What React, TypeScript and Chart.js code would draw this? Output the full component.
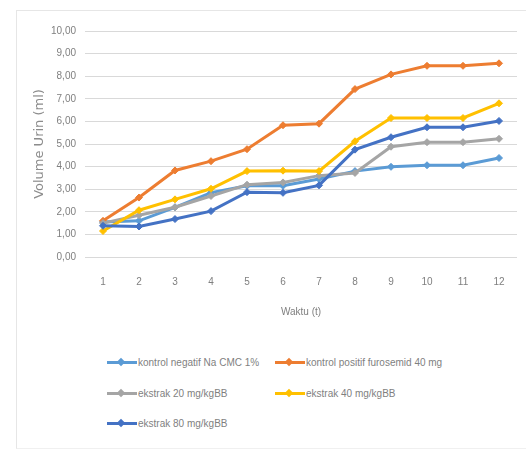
import React, { useEffect, useRef } from "react";
import { Chart, registerables } from "chart.js";

Chart.register(...registerables);

const categories = ["1", "2", "3", "4", "5", "6", "7", "8", "9", "10", "11", "12"];
const seriesNames = [
  "kontrol negatif Na CMC 1%",
  "kontrol positif furosemid 40 mg",
  "ekstrak 20 mg/kgBB",
  "ekstrak 40 mg/kgBB",
  "ekstrak 80 mg/kgBB",
];
const kontrolNegatif = [1.55, 1.6, 2.2, 2.85, 3.15, 3.15, 3.45, 3.8, 3.99, 4.06, 4.06, 4.38];
const kontrolPositif = [1.6, 2.63, 3.83, 4.24, 4.77, 5.83, 5.9, 7.43, 8.08, 8.46, 8.46, 8.57];
const ekstrak20 = [1.5, 1.85, 2.2, 2.7, 3.2, 3.3, 3.6, 3.72, 4.88, 5.08, 5.08, 5.23];
const ekstrak40 = [1.15, 2.07, 2.55, 3.02, 3.8, 3.82, 3.8, 5.12, 6.15, 6.15, 6.15, 6.8];
const ekstrak80 = [1.38, 1.35, 1.68, 2.03, 2.87, 2.84, 3.17, 4.75, 5.3, 5.74, 5.74, 6.02];
const seriesValues = [kontrolNegatif, kontrolPositif, ekstrak20, ekstrak40, ekstrak80];
const seriesColors = ["#5B9BD5", "#ED7D31", "#A5A5A5", "#FFC000", "#4472C4"];
const yTitle = "Volume Urin (ml)";
const xTitle = "Waktu (t)";

const FONT = "'Liberation Sans', Arial, sans-serif";
const TEXT = "#7f7f7f";

function LegendItem({ name, color, left, top }: { name: string; color: string; left: number; top: number }) {
  return (
    <div style={{ position: "absolute", left, top: top - 7, height: 14, display: "flex", alignItems: "center" }}>
      <div style={{ position: "relative", width: 30, height: 14 }}>
        <div style={{ position: "absolute", left: 0, top: 6, width: 30, height: 3, background: color }} />
        <div
          style={{
            position: "absolute",
            left: 11,
            top: 3.5,
            width: 6,
            height: 6,
            background: color,
            transform: "rotate(45deg)",
          }}
        />
      </div>
      <span style={{ fontFamily: FONT, fontSize: 10, color: TEXT, marginLeft: 1, whiteSpace: "nowrap" }}>{name}</span>
    </div>
  );
}

export default function App() {
  const ref = useRef<HTMLCanvasElement | null>(null);
  useEffect(() => {
    if (!ref.current) return;
    const chart = new Chart(ref.current, {
      type: "line",
      data: {
        labels: categories,
        datasets: seriesNames.map((name, i) => ({
          label: name,
          data: seriesValues[i],
          borderColor: seriesColors[i],
          backgroundColor: seriesColors[i],
          borderWidth: 3,
          pointStyle: "rectRot",
          pointRadius: 3.5,
          pointBorderWidth: 1,
          tension: 0,
          order: seriesNames.length - i,
        })),
      },
      options: {
        animation: false,
        responsive: false,
        maintainAspectRatio: false,
        layout: { padding: { top: 31, right: 9, left: 0, bottom: 0 } },
        plugins: { legend: { display: false }, tooltip: { enabled: false } },
        scales: {
          x: {
            offset: true,
            grid: { display: false },
            border: { display: false },
            ticks: { color: TEXT, font: { family: FONT, size: 10 }, padding: 11 },
            title: {
              display: true,
              text: xTitle,
              color: TEXT,
              font: { family: FONT, size: 10 },
              padding: { top: 0, bottom: 12 },
            },
            afterFit: (s: any) => {
              s.height = 73;
            },
          },
          y: {
            min: 0,
            max: 10,
            ticks: {
              stepSize: 1,
              color: TEXT,
              font: { family: FONT, size: 10 },
              padding: 9,
              callback: (v: any) => Number(v).toFixed(2).replace(".", ","),
            },
            grid: { color: "#d9d9d9", lineWidth: 1, drawTicks: false },
            border: { display: false },
            title: {
              display: true,
              text: yTitle,
              color: "#8c8c8c",
              font: { family: "'DejaVu Sans', sans-serif", size: 13 },
              padding: { top: 32, bottom: 0 },
            },
            afterFit: (s: any) => {
              s.width = 85;
            },
          },
        },
      },
    });
    return () => chart.destroy();
  }, []);

  return (
    <div style={{ position: "fixed", left: 0, top: 0, width: 526, height: 450, background: "#fff" }}>
      <div
        style={{
          position: "absolute",
          left: 16,
          top: 10,
          width: 520,
          height: 437,
          borderTop: "1px solid #e6e6e6",
          borderLeft: "1px solid #e6e6e6",
          borderBottom: "1px solid #f0f0f0",
        }}
      />
      <canvas ref={ref} width={526} height={330} style={{ position: "absolute", left: 0, top: 0 }} />
      <LegendItem name={seriesNames[0]} color={seriesColors[0]} left={107} top={362} />
      <LegendItem name={seriesNames[1]} color={seriesColors[1]} left={275} top={362} />
      <LegendItem name={seriesNames[2]} color={seriesColors[2]} left={107} top={393} />
      <LegendItem name={seriesNames[3]} color={seriesColors[3]} left={275} top={393} />
      <LegendItem name={seriesNames[4]} color={seriesColors[4]} left={107} top={423} />
    </div>
  );
}
